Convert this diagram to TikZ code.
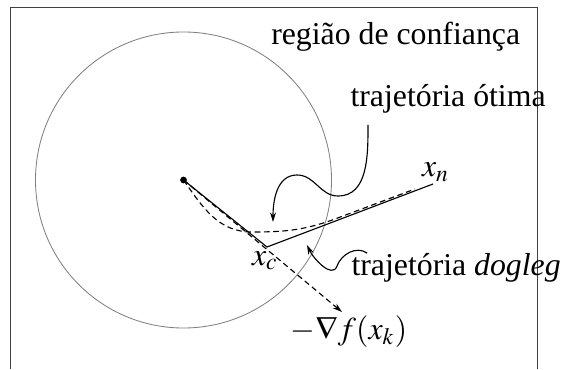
\documentclass[tikz,border=0pt]{standalone}
\usepackage{mathptmx}
\usepackage[no-math]{fontspec}
\setmainfont{Liberation Serif}
\usetikzlibrary{arrows.meta}

\begin{document}
\begin{tikzpicture}[
    x=0.0125cm, y=-0.0125cm,
    lbl/.style={inner sep=0pt, anchor=base west, font=\fontsize{11.3}{13}\selectfont},
    pt/.style={circle, fill, inner sep=0pt, minimum size=2.4pt},
    frame/.style={line width=0.55pt, black!75},
    region/.style={line width=0.3pt, gray},
    traj/.style={line width=0.4pt},
    dsh/.style={line width=0.4pt, dash pattern=on 2pt off 1.3pt},
    arr/.style={-{Stealth[length=3.4pt, width=2.1pt]}, line width=0.4pt}
]
\useasboundingbox (0,0) rectangle (561,369);

% ============================================================
% frame and trust region
% ============================================================
\draw[frame] (10.7,369) -- (10.7,7.3) -- (537.5,7.3) -- (537.5,369);
\node[pt] (xk) at (183.5,180) {};
\draw[region] (xk.center) circle[radius=148];

% ============================================================
% points
% ============================================================
\coordinate (xc) at (267,247);
\coordinate (xn) at (433,184);
\coordinate (gk) at (342,312);
\coordinate (ob) at (252,232);
\coordinate (oc) at (335,219);
\coordinate (oe) at (415,189);

% dogleg path and steepest descent
\draw[traj] (xk.center) -- (xc) -- (xn);
\draw[dsh, arr] (xk.center) -- (gk);

% optimal path
\draw[dsh] (xk.center) to[out=-55, in=180] (ob) to[out=0, in=200] (oc) -- (oe);

% ============================================================
% labels
% ============================================================
\node[lbl] (reg) at (270.7,44.3) {região de confiança};
\node[lbl] (opt) at (350,106.7) {trajetória ótima};
\node[lbl] (dog) at (351,275) {trajetória \textit{dogleg}};
\node[lbl] (lxc) at (251.5,265) {$x_c$};
\node[lbl] (lxn) at (421.5,176.5) {$x_n$};
\node[lbl] (lgk) at (290,339) {$-\nabla f(x_k)$};

% pointer arrows
\coordinate (os) at (368,125);
\coordinate (ot) at (273,222);
\draw[arr] (os) to[out=270, in=0] (338,196) to[out=180, in=0] (297,175)
    to[out=180, in=90] (ot);

\coordinate (ds) at (367,253);
\coordinate (dt) at (307,245);
\draw[arr] (ds) to[out=145, in=70] (337,266) to[out=250, in=-65] (dt);

\end{tikzpicture}
\end{document}
